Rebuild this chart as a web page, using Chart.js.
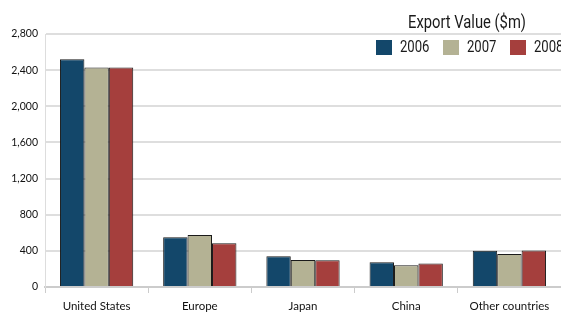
<!DOCTYPE html>
<html>
<head>
<meta charset="utf-8">
<script src="https://cdn.jsdelivr.net/npm/chart.js@4/dist/chart.umd.min.js"></script>
<style>
html,body{margin:0;padding:0;background:#fff;}
#wrap{width:561px;height:314px;position:relative;}
</style>
</head>
<body>
<div id="wrap"><canvas id="c" width="561" height="314"></canvas></div>
<script>
const categories = ["United States", "Europe", "Japan", "China", "Other countries"];
const seriesNames = ["2006", "2007", "2008"];
const values2006 = [2520, 550, 340, 275, 400];
const values2007 = [2430, 575, 300, 240, 365];
const values2008 = [2430, 485, 295, 260, 405];
const yTicks = [0, 400, 800, 1200, 1600, 2000, 2400, 2800];
const chartTitle = "Export Value ($m)";
const colors = ["#13476a", "#b4b294", "#a53f3d"];

function condensedText(ctx, text, x, y, font, sx, align) {
  ctx.save();
  ctx.font = font;
  ctx.textBaseline = 'middle';
  ctx.textAlign = 'left';
  const w = ctx.measureText(text).width * sx;
  const left = align === 'center' ? x - w / 2 : x;
  ctx.translate(left, y);
  ctx.scale(sx, 1);
  ctx.fillText(text, 0, 0);
  ctx.restore();
}

const overlay = {
  id: 'overlay',
  afterDraw(chart) {
    const ctx = chart.ctx;
    ctx.save();
    ctx.fillStyle = '#1a1a1a';
    const tFont = '18px Roboto, sans-serif';
    ctx.font = tFont;
    const sx = 118 / ctx.measureText(chartTitle).width;
    condensedText(ctx, chartTitle, 467, 23, tFont, sx, 'center');
    chart.data.datasets.forEach((ds, i) => {
      const x = 376 + i * 67;
      ctx.fillStyle = ds.backgroundColor;
      ctx.fillRect(x, 40, 16, 15);
      ctx.fillStyle = '#1a1a1a';
      condensedText(ctx, ds.label, x + 24, 48, '16px Roboto, sans-serif', sx, 'left');
    });
    ctx.restore();
  }
};

const dataSets = [values2006, values2007, values2008].map((v, i) => ({
  label: seriesNames[i],
  data: v,
  backgroundColor: colors[i],
  borderColor: '#1a1a1a',
  borderWidth: 1,
  categoryPercentage: 0.71,
  barPercentage: 1.0
}));

new Chart(document.getElementById('c'), {
  type: 'bar',
  data: { labels: categories, datasets: dataSets },
  options: {
    responsive: false,
    animation: false,
    layout: { padding: { top: 34, left: 0, right: 0, bottom: 0 } },
    plugins: { legend: { display: false }, title: { display: false }, tooltip: { enabled: false } },
    scales: {
      x: {
        afterFit(s) { s.height = 27; },
        grid: { drawOnChartArea: false, drawTicks: true, tickLength: 6, color: '#cccccc', offset: true },
        border: { color: '#cccccc', width: 2 },
        ticks: { color: '#111111', font: { family: 'Lato, "Open Sans", sans-serif', size: 11.5 }, padding: 6, maxRotation: 0 }
      },
      y: {
        min: 0, max: 2800,
        afterFit(s) { s.width = 45; },
        afterBuildTicks(s) { s.ticks = yTicks.map(v => ({ value: v })); },
        grid: { color: '#dedede', lineWidth: 2, drawTicks: false },
        border: { color: '#dddddd', width: 1 },
        ticks: {
          color: '#111111', padding: 7,
          font: { family: 'Lato, "Open Sans", sans-serif', size: 10.5 },
          callback: v => v.toLocaleString('en-US')
        }
      }
    }
  },
  plugins: [overlay]
});
</script>
</body>
</html>
